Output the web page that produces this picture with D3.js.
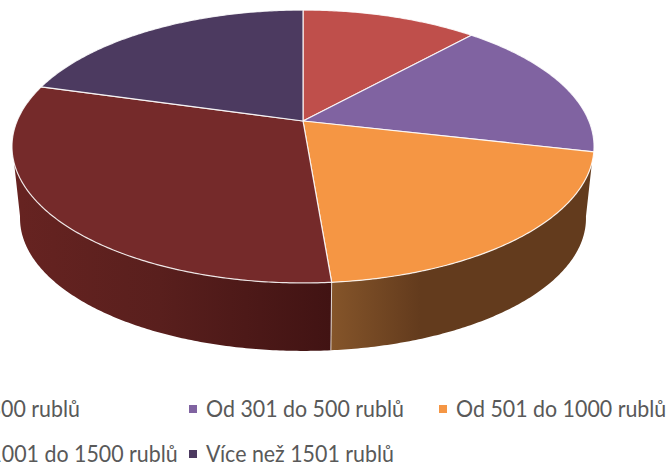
<!DOCTYPE html>
<html>
<head>
<meta charset="utf-8">
<script src="https://cdn.jsdelivr.net/npm/d3@7"></script>
<style>
html,body{margin:0;padding:0;background:#fff;overflow:hidden}
svg{display:block}
text{font-family:Lato,"Open Sans",sans-serif;fill:#595959}
</style>
</head>
<body>
<svg id="chart" width="668" height="464"></svg>
<script>
// Spending bands and their shares of respondents (percent)
const categories = ["Do 300 rublů", "Od 301 do 500 rublů", "Od 501 do 1000 rublů", "Od 1001 do 1500 rublů", "Více než 1501 rublů"];
const shares = [11.7, 16.9, 20.1, 30.7, 20.6];
const topColors = ["#bf4f4b", "#8063a1", "#f59644", "#752a2a", "#4c3a60"];
const legendColumns = [-62, 189, 439];
const legendRows = [417, 462];

const svg = d3.select("#chart");

// Perspective disc: u points right, v towards the viewer
const persp = -0.1868;
const topFace = {cx: 303, cy: 121, ax: 285.9, ay: 131.7};
const bottomFace = {cx: 303, cy: 193.5, ax: 278, ay: 128};

function project(face, theta) {
  const u = Math.sin(theta), v = -Math.cos(theta), w = 1 + persp * v;
  return [face.cx + face.ax * u / w, face.cy + face.ay * v / w];
}
function arcPoints(face, a, b) {
  const n = Math.max(2, Math.ceil(Math.abs(b - a) / 0.01));
  return d3.range(n + 1).map(i => project(face, a + (b - a) * i / n));
}
const rad = deg => deg * Math.PI / 180;

const pie = d3.pie().sort(null).value(d => d);
const arcs = pie(shares);
const line = d3.line();

// Silhouette angles of the visible rim on the upper and lower edges
const rimTop = [rad(107.5), rad(252.5)];
const rimBottom = [rad(100), rad(260)];

const defs = svg.append("defs");
const rimShades = {
  2: {x1: 331, x2: 420, stops: [[0, "#85552a"], [1, "#633b1d"]]},
  3: {x1: 20, x2: 331, stops: [[0, "#662321"], [0.45, "#591f1d"], [1, "#411313"]]}
};
Object.entries(rimShades).forEach(([i, g]) => {
  const lg = defs.append("linearGradient").attr("id", "rim" + i)
    .attr("gradientUnits", "userSpaceOnUse")
    .attr("x1", g.x1).attr("x2", g.x2).attr("y1", 0).attr("y2", 0);
  g.stops.forEach(s => lg.append("stop").attr("offset", s[0]).attr("stop-color", s[1]));
});

// Rim segments of the slices facing the viewer
arcs.forEach((d, i) => {
  if (d.endAngle <= rimTop[0] || d.startAngle >= rimTop[1]) return;
  const a = Math.max(d.startAngle, rimTop[0]), b = Math.min(d.endAngle, rimTop[1]);
  const a2 = d.startAngle < rimTop[0] ? rimBottom[0] : a;
  const b2 = d.endAngle > rimTop[1] ? rimBottom[1] : b;
  const pts = arcPoints(topFace, a, b).concat(arcPoints(bottomFace, b2, a2));
  svg.append("path").attr("d", line(pts) + "Z")
    .attr("fill", rimShades[i] ? `url(#rim${i})` : topColors[i]);
  if (d.startAngle >= rimTop[0] && d.startAngle <= rimTop[1]) {
    svg.append("path")
      .attr("d", line([project(topFace, d.startAngle), project(bottomFace, d.startAngle)]))
      .attr("stroke", "#fff").attr("stroke-opacity", 0.75).attr("stroke-width", 1).attr("fill", "none");
  }
});

// Top face slices
arcs.forEach((d, i) => {
  const pts = [[topFace.cx, topFace.cy]].concat(arcPoints(topFace, d.startAngle, d.endAngle));
  svg.append("path").attr("d", line(pts) + "Z")
    .attr("fill", topColors[i])
    .attr("stroke", "#fff").attr("stroke-opacity", 0.85).attr("stroke-width", 1.2)
    .attr("stroke-linejoin", "round");
});

// Legend, laid out in three columns over two rows
const legendSlots = [[0,0],[1,0],[2,0],[0,1],[1,1]];
categories.forEach((c, i) => {
  const [col, row] = legendSlots[i];
  const x = legendColumns[col], y = legendRows[row];
  svg.append("rect").attr("x", x).attr("y", y - 12).attr("width", 8).attr("height", 8).attr("fill", topColors[i]);
  svg.append("text").attr("transform", `translate(${x + 17},${y}) scale(0.93,1)`)
    .attr("font-size", 23).text(c);
});
</script>
</body>
</html>
